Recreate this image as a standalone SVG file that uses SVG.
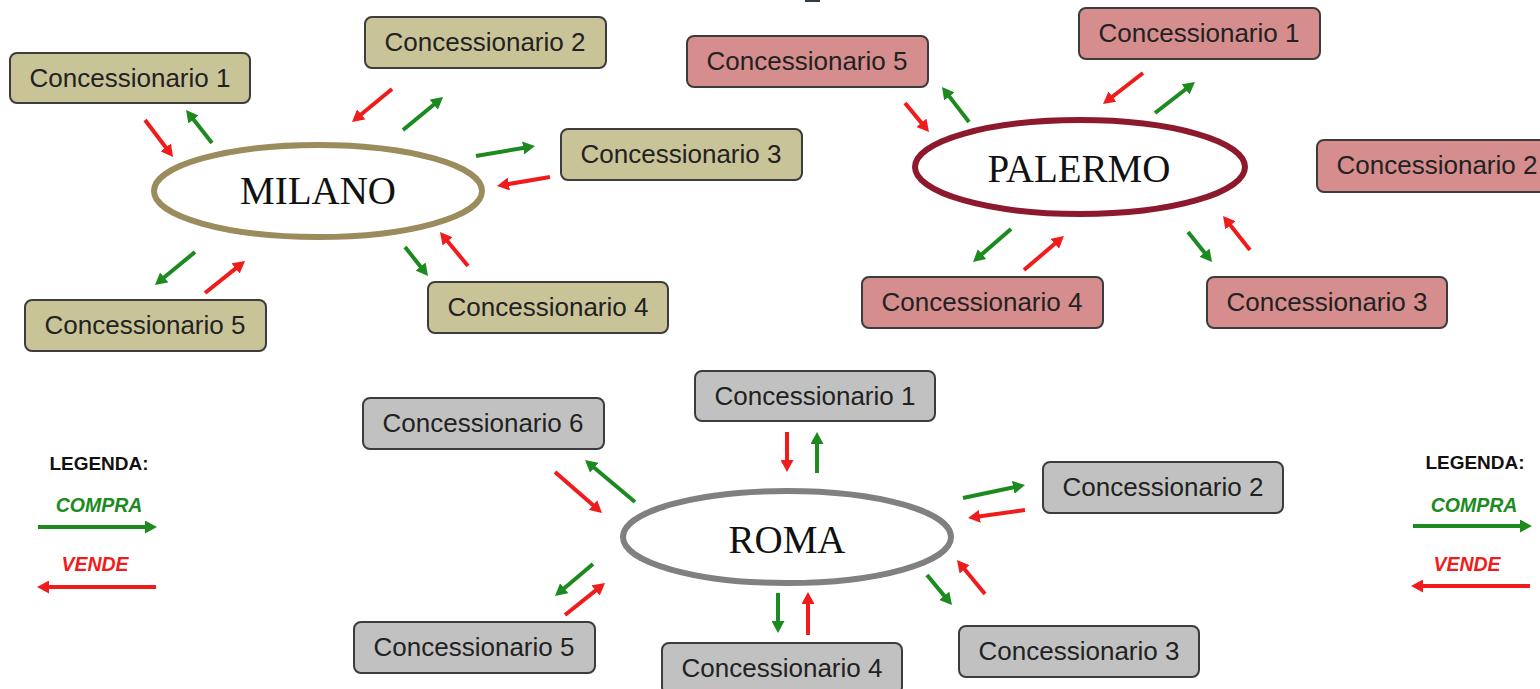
<svg xmlns="http://www.w3.org/2000/svg" width="1540" height="689" viewBox="0 0 1540 689">
<style>
.box{stroke:#3c3c3c;stroke-width:2}
.mi{fill:#c9c498}
.pa{fill:#d68d8d}
.ro{fill:#c1c1c1}
.bt{font-family:"Liberation Sans",Arial,sans-serif;font-size:26px;fill:#222;text-anchor:middle}
.city{font-family:"Liberation Serif","Times New Roman",serif;font-size:39px;fill:#111;text-anchor:middle}
.g{stroke:#1c8a1e;stroke-width:4;fill:none;marker-end:url(#hg)}
.r{stroke:#f01c1c;stroke-width:4;fill:none;marker-end:url(#hr)}
.lg{font-family:"Liberation Sans",Arial,sans-serif;font-weight:bold;text-anchor:middle}
</style>
<defs>
<marker id="hg" markerWidth="13" markerHeight="13" refX="3" refY="6.5" orient="auto" markerUnits="userSpaceOnUse"><path d="M0,0 L12,6.5 L0,13 z" fill="#1c8a1e"/></marker>
<marker id="hr" markerWidth="13" markerHeight="13" refX="3" refY="6.5" orient="auto" markerUnits="userSpaceOnUse"><path d="M0,0 L12,6.5 L0,13 z" fill="#f01c1c"/></marker>
</defs>
<rect width="1540" height="689" fill="#fff"/>
<rect x="805" y="-1" width="15" height="3" fill="#2e3b48"/>

<g id="milano">
<ellipse cx="318" cy="191" rx="164" ry="46" fill="#fff" stroke="#9a8c5c" stroke-width="6"/>
<text class="city" x="318" y="204">MILANO</text>
</g>
<g id="milano-c1"><rect class="box mi" x="10" y="53" width="240" height="50" rx="7"/><text class="bt" x="130" y="87">Concessionario 1</text></g>
<g id="milano-c2"><rect class="box mi" x="365" y="17" width="241" height="51" rx="7"/><text class="bt" x="485" y="51">Concessionario 2</text></g>
<g id="milano-c3"><rect class="box mi" x="561" y="129" width="241" height="51" rx="7"/><text class="bt" x="681" y="163">Concessionario 3</text></g>
<g id="milano-c4"><rect class="box mi" x="428" y="282" width="240" height="51" rx="7"/><text class="bt" x="548" y="316">Concessionario 4</text></g>
<g id="milano-c5"><rect class="box mi" x="25" y="300" width="241" height="51" rx="7"/><text class="bt" x="145" y="334">Concessionario 5</text></g>

<g id="palermo">
<ellipse cx="1080" cy="167" rx="165" ry="47" fill="#fff" stroke="#8c1a2c" stroke-width="6"/>
<text class="city" x="1079" y="182">PALERMO</text>
</g>
<g id="palermo-c1"><rect class="box pa" x="1079" y="8" width="241" height="51" rx="7"/><text class="bt" x="1199" y="42">Concessionario 1</text></g>
<g id="palermo-c2"><rect class="box pa" x="1317" y="140" width="241" height="52" rx="7"/><text class="bt" x="1437" y="174">Concessionario 2</text></g>
<g id="palermo-c3"><rect class="box pa" x="1207" y="277" width="240" height="51" rx="7"/><text class="bt" x="1327" y="311">Concessionario 3</text></g>
<g id="palermo-c4"><rect class="box pa" x="862" y="277" width="241" height="51" rx="7"/><text class="bt" x="982" y="311">Concessionario 4</text></g>
<g id="palermo-c5"><rect class="box pa" x="687" y="36" width="241" height="51" rx="7"/><text class="bt" x="807" y="70">Concessionario 5</text></g>

<g id="roma">
<ellipse cx="787" cy="537" rx="164" ry="46" fill="#fff" stroke="#808080" stroke-width="6"/>
<text class="city" x="787" y="553">ROMA</text>
</g>
<g id="roma-c1"><rect class="box ro" x="695" y="371" width="240" height="50" rx="7"/><text class="bt" x="815" y="405">Concessionario 1</text></g>
<g id="roma-c2"><rect class="box ro" x="1043" y="462" width="240" height="51" rx="7"/><text class="bt" x="1163" y="496">Concessionario 2</text></g>
<g id="roma-c3"><rect class="box ro" x="959" y="626" width="240" height="51" rx="7"/><text class="bt" x="1079" y="660">Concessionario 3</text></g>
<g id="roma-c4"><rect class="box ro" x="662" y="643" width="240" height="51" rx="7"/><text class="bt" x="782" y="677">Concessionario 4</text></g>
<g id="roma-c5"><rect class="box ro" x="354" y="622" width="241" height="51" rx="7"/><text class="bt" x="474" y="656">Concessionario 5</text></g>
<g id="roma-c6"><rect class="box ro" x="363" y="398" width="241" height="51" rx="7"/><text class="bt" x="483" y="432">Concessionario 6</text></g>

<g id="connectors">
<line class="r" x1="145" y1="120" x2="167.6" y2="149.8"/>
<line class="g" x1="212" y1="143" x2="191.6" y2="117.1"/>
<line class="r" x1="392" y1="89" x2="358.9" y2="116.3"/>
<line class="g" x1="403" y1="130" x2="436.1" y2="102.7"/>
<line class="g" x1="476" y1="156" x2="526.1" y2="147.5"/>
<line class="r" x1="550" y1="177" x2="505.9" y2="184.5"/>
<line class="r" x1="468" y1="266" x2="445.7" y2="239"/>
<line class="g" x1="405" y1="247" x2="422.4" y2="268.9"/>
<line class="g" x1="195" y1="252" x2="161.9" y2="279.3"/>
<line class="r" x1="205" y1="293" x2="238" y2="266.6"/>

<line class="r" x1="905" y1="103" x2="923.3" y2="125.1"/>
<line class="g" x1="969" y1="122" x2="947.5" y2="94.1"/>
<line class="r" x1="1143" y1="73" x2="1110.1" y2="98.5"/>
<line class="g" x1="1155" y1="113" x2="1187.9" y2="87.5"/>
<line class="g" x1="1011" y1="229" x2="979.8" y2="256.1"/>
<line class="r" x1="1024" y1="270" x2="1057.1" y2="241.8"/>
<line class="g" x1="1188" y1="232" x2="1206.4" y2="255"/>
<line class="r" x1="1250" y1="250" x2="1228.6" y2="223"/>

<line class="r" x1="787" y1="432" x2="787" y2="463"/>
<line class="g" x1="817" y1="473" x2="817" y2="441"/>
<line class="r" x1="555" y1="472" x2="595.2" y2="507.1"/>
<line class="g" x1="635" y1="502" x2="591.9" y2="465.8"/>
<line class="g" x1="963" y1="498" x2="1016.2" y2="486.8"/>
<line class="r" x1="1025" y1="510" x2="976.9" y2="516.7"/>
<line class="g" x1="593" y1="564" x2="561.9" y2="590.2"/>
<line class="r" x1="565" y1="615" x2="598" y2="588.6"/>
<line class="g" x1="778" y1="593" x2="778" y2="624"/>
<line class="r" x1="808" y1="635" x2="808" y2="601"/>
<line class="g" x1="927" y1="575" x2="946.2" y2="598.1"/>
<line class="r" x1="985" y1="594" x2="962.7" y2="567"/>
</g>

<g id="legend-left">
<text class="lg" x="99" y="470" font-size="19" fill="#111">LEGENDA:</text>
<text class="lg" x="99" y="512" font-size="19.5" font-style="italic" fill="#1c8a1e">COMPRA</text>
<line class="g" x1="38" y1="527" x2="148" y2="527"/>
<text class="lg" x="95" y="571" font-size="19.5" font-style="italic" fill="#f01c1c">VENDE</text>
<line class="r" x1="156" y1="587" x2="46" y2="587"/>
</g>
<g id="legend-right">
<text class="lg" x="1475" y="469" font-size="19" fill="#111">LEGENDA:</text>
<text class="lg" x="1474" y="512" font-size="19.5" font-style="italic" fill="#1c8a1e">COMPRA</text>
<line class="g" x1="1413" y1="526" x2="1523" y2="526"/>
<text class="lg" x="1467" y="571" font-size="19.5" font-style="italic" fill="#f01c1c">VENDE</text>
<line class="r" x1="1530" y1="586" x2="1420" y2="586"/>
</g>
</svg>
